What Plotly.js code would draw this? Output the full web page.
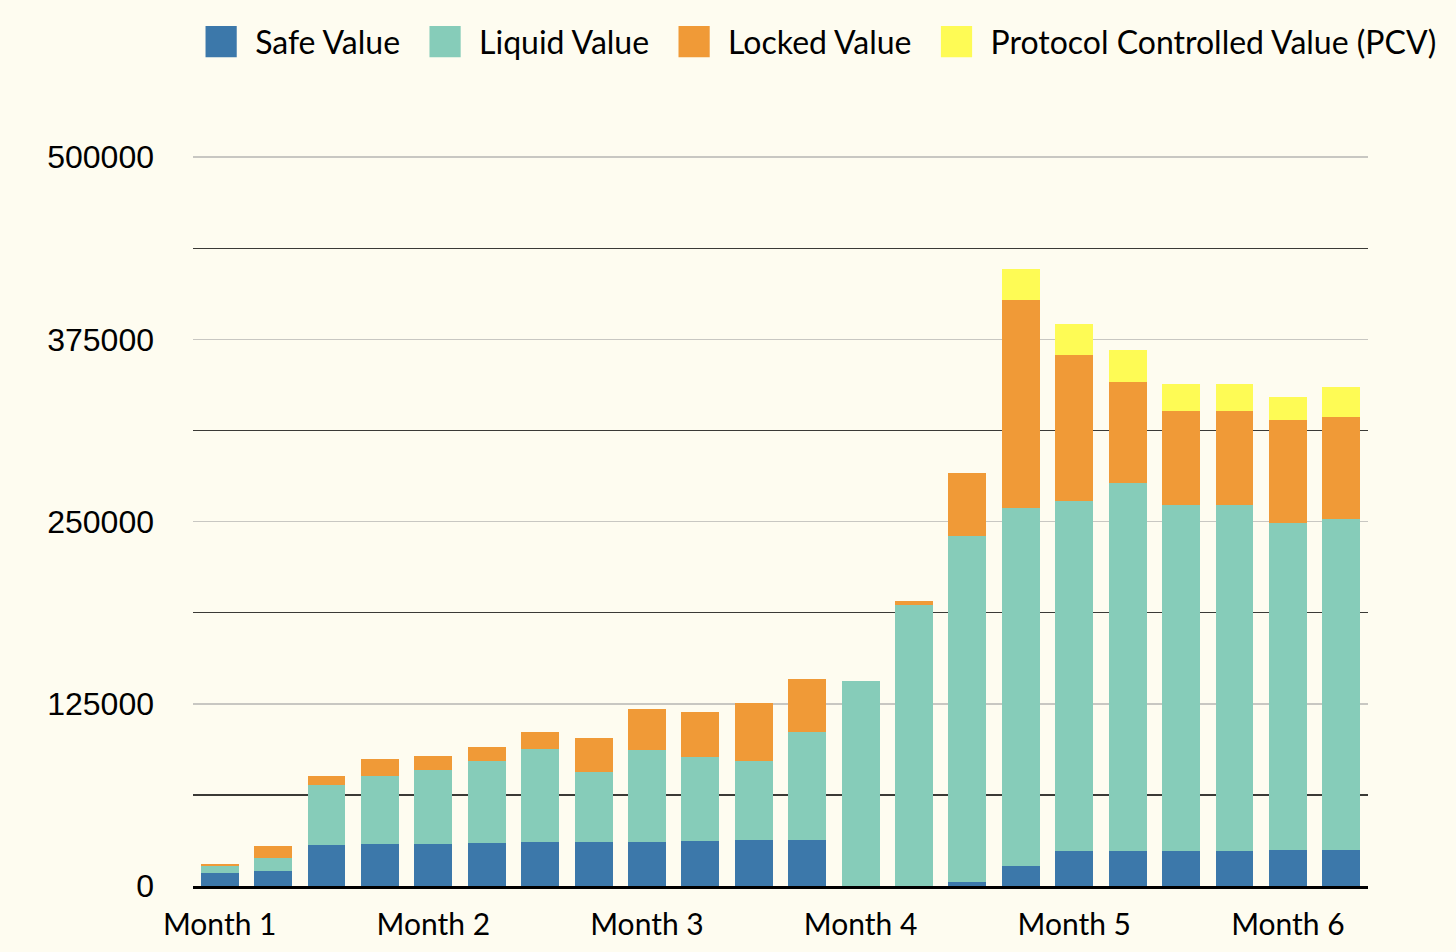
<!DOCTYPE html>
<html>
<head>
<meta charset="utf-8">
<script src="https://cdn.plot.ly/plotly-3.0.1.min.js"></script>
<style>
  html, body { margin: 0; padding: 0; background: #fefcf0; }
  #chart { width: 1456px; height: 952px; }
</style>
</head>
<body>
<div id="chart"></div>
<script>
// 22 reporting periods (weekly snapshots over six months)
const periods = ['P1','P2','P3','P4','P5','P6','P7','P8','P9','P10','P11',
                 'P12','P13','P14','P15','P16','P17','P18','P19','P20','P21','P22'];
const monthTickPositions = ['P1','P5','P9','P13','P17','P21'];
const monthTickLabels = ['Month 1','Month 2','Month 3','Month 4','Month 5','Month 6'];

const safeValue   = [8900, 10300, 28100, 28800, 28800, 29500, 30200, 30200, 30200, 30900, 31500,
                     31500, 0, 0, 2700, 13700, 24000, 24000, 24000, 24000, 24700, 24700];
const liquidValue = [4800, 9100, 41100, 46600, 50700, 56200, 63700, 48000, 63000, 57500, 54200,
                     74100, 140500, 192700, 237300, 245500, 240000, 252300, 237200, 237200, 224200, 226900];
const lockedValue = [1400, 8000, 6200, 11700, 9600, 9600, 11700, 23300, 28200, 30900, 39800,
                     36300, 0, 2700, 43200, 142600, 100100, 69200, 64500, 64500, 70600, 70000];
const pcvValue    = [0, 0, 0, 0, 0, 0, 0, 0, 0, 0, 0,
                     0, 0, 0, 0, 21200, 21200, 22000, 18500, 18500, 15800, 20500];

const seriesNames  = ['Safe Value', 'Liquid Value', 'Locked Value', 'Protocol Controlled Value (PCV)'];
const seriesColors = ['#3c78aa', '#86ccb9', '#f09a37', '#fefb55'];
const seriesValues = [safeValue, liquidValue, lockedValue, pcvValue];

const traces = seriesValues.map((vals, i) => ({
  type: 'bar',
  name: seriesNames[i],
  x: periods,
  y: vals,
  marker: { color: seriesColors[i], line: { width: 0 } },
  hoverinfo: 'skip'
}));

const layout = {
  width: 1456,
  height: 952,
  paper_bgcolor: '#fefcf0',
  plot_bgcolor: '#fefcf0',
  barmode: 'stack',
  bargap: 0.29,
  margin: { l: 193, r: 88, t: 128, b: 66, pad: 0 },
  showlegend: true,
  legend: {
    orientation: 'h',
    x: -0.0101, xanchor: 'left',
    y: 1.1136, yanchor: 'middle',
    font: { family: 'Lato, sans-serif', size: 32, color: '#000' },
    itemwidth: 64,
    traceorder: 'normal',
    bgcolor: 'rgba(0,0,0,0)'
  },
  xaxis: {
    type: 'category',
    categoryorder: 'array',
    categoryarray: periods,
    tickmode: 'array',
    tickvals: monthTickPositions,
    ticktext: monthTickLabels,
    ticks: '',
    ticklabelstandoff: 10,
    tickfont: { family: 'Lato, sans-serif', size: 30, color: '#000' },
    showgrid: false,
    showline: true,
    linecolor: '#000',
    linewidth: 3,
    zeroline: false,
    range: [-0.5, 21.5],
    fixedrange: true
  },
  yaxis: {
    range: [0, 520000],
    tickmode: 'linear',
    tick0: 0,
    dtick: 125000,
    tickformat: 'd',
    ticks: '',
    ticklabelstandoff: 38,
    tickfont: { family: 'Liberation Sans, Arial, sans-serif', size: 32, color: '#000' },
    showgrid: true,
    gridcolor: '#c8c7c2',
    gridwidth: 1.5,
    minor: {
      tickmode: 'linear',
      tick0: 0,
      dtick: 62500,
      showgrid: true,
      gridcolor: '#3b3a36',
      gridwidth: 1.5,
      ticks: ''
    },
    zeroline: false,
    showline: false,
    fixedrange: true
  }
};

Plotly.newPlot('chart', traces, layout, { displayModeBar: false, staticPlot: true }).then(() => {
  // enlarge the legend swatches to match the reference's big square keys
  document.querySelectorAll('#chart .legend .legendpoints path').forEach(p => {
    const t = p.getAttribute('transform') || '';
    p.setAttribute('transform', t + ' translate(3,0) scale(2.6)');
  });
});
</script>
</body>
</html>
